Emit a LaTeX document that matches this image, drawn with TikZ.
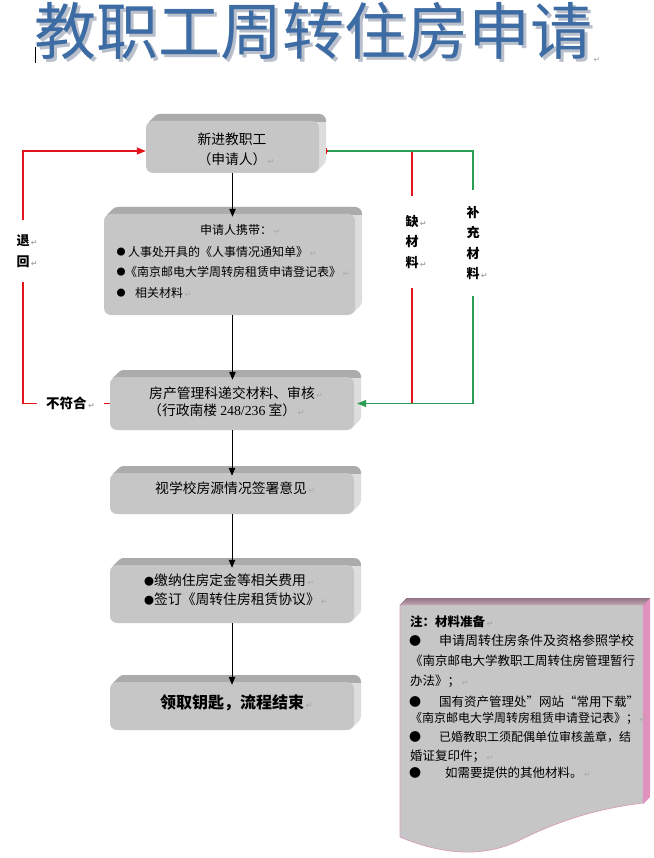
\documentclass[tikz,border=0pt]{standalone}
\usepackage{fontspec}
\setmainfont{Noto Sans CJK SC}
\newfontfamily\dvfont{DejaVu Sans}
\newfontfamily\serifl{Liberation Serif}
\usetikzlibrary{arrows.meta,calc}
\definecolor{face}{HTML}{C6C6C6}
\definecolor{side}{HTML}{DDDDDD}
\definecolor{topmid}{HTML}{ABABAB}
\definecolor{redl}{HTML}{E3141C}
\definecolor{greenl}{HTML}{2A9D55}
\definecolor{titleblue}{HTML}{3D6BA3}
\definecolor{titleshadow}{HTML}{B9C0CC}
\definecolor{mauvetop}{HTML}{937484}
\definecolor{mauvebot}{HTML}{BCA6B2}
\definecolor{pinkside}{HTML}{E290BD}
\definecolor{pinkedge}{HTML}{D6A3BF}
\definecolor{retgray}{HTML}{A8A8A8}
\newcommand\parmk{{\dvfont\fontsize{8}{8}\selectfont\color{retgray}\,↵}}
\newcommand\smdot{{\fontsize{10}{10}\selectfont ●}}
\newcommand\bevbox[5]{%
  \foreach \s in {1,...,7}{
    \fill[side, rounded corners=7pt] ({#2+\s},{#3+7-\s}) rectangle ({#4-7+\s},{#5-\s});
  }
  \begin{scope}
    \clip ({#2-2},{#3-2}) rectangle ({#4+2},{#3+7.5});
    \foreach \s in {1,...,7}{
      \fill[topmid, rounded corners=7pt] ({#2+\s},{#3+7-\s}) rectangle ({#4-7+\s},{#5-\s});
    }
  \end{scope}
  \node[facebox, minimum width={(#4-#2-7)*1pt}, minimum height={(#5-#3-7)*1pt}] (#1) at ({(#2+#4-7)/2},{(#3+#5+7)/2}) {};
}
\begin{document}
\begin{tikzpicture}[x=1pt,y=-1pt,
  facebox/.style={rectangle, rounded corners=7pt, fill=face, inner sep=0pt},
  txt/.style={inner sep=0pt, anchor=west, font=\fontsize{13.8}{16}\selectfont},
  smalltxt/.style={inner sep=0pt, anchor=west, font=\fontsize{12}{14}\selectfont},
  note/.style={inner sep=0pt, anchor=west, font=\fontsize{12.5}{15}\selectfont},
  dot/.style={inner sep=0pt, font=\fontsize{9}{10}\selectfont},
  ndot/.style={inner sep=0pt, font=\fontsize{12}{12}\selectfont},
  lbl/.style={inner sep=0pt, align=center, font=\bfseries\fontsize{13}{20.5}\selectfont, minimum width=14pt},
  arr/.style={line width=1pt, -{Triangle[length=8pt,width=6.5pt]}},
  redc/.style={draw=redl, line width=1.1pt},
  greenc/.style={draw=greenl, line width=1.1pt},
]
\useasboundingbox (0,0) rectangle (653,858);
\fill[white] (0,0) rectangle (653,858);

% title with shadow
\node[inner sep=0pt, text=titleblue, font=\fontsize{62}{62}\selectfont] (title) at (313,33)
  {\rlap{\hspace{3pt}\raisebox{-3pt}{\color{titleshadow}教职工周转住房申请}}教职工周转住房申请};
\node[inner sep=0pt, anchor=west] (tmark) at (592,60) {\parmk};
\draw[line width=0.8pt] (35,47) -- (35,63);

% boxes
\bevbox{b1}{146}{114}{326}{173}
\bevbox{b2}{104}{207}{362}{315}
\bevbox{b3}{110}{370}{361}{430}
\bevbox{b4}{110}{466}{361}{514}
\bevbox{b5}{110}{558}{361}{623}
\bevbox{b6}{110}{675}{361}{730}

% box texts
\node[txt, anchor=center] (t1a) at (232,139) {新进教职工};
\node[txt, anchor=center] (t1b) at (232,159) {（申请人）\rlap{\parmk}};

\node[smalltxt] (t2a) at (200,230) {申请人携带：\parmk};
\node[dot] (d2a) at (121,252) {●};
\node[smalltxt] (t2b) at (128,252) {人事处开具的《人事情况通知单》\parmk};
\node[dot] (d2b) at (121,272) {●};
\node[smalltxt] (t2c) at (125,272) {《南京邮电大学周转房租赁申请登记表》\parmk};
\node[dot] (d2c) at (121,293) {●};
\node[smalltxt] (t2d) at (135,293) {相关材料\parmk};

\node[txt] (t3a) at (149,393) {房产管理科递交材料、审核\parmk};
\node[txt] (t3b) at (148,410) {（行政南楼 {\serifl 248/236} 室）\parmk};

\node[txt] (t4) at (155,488) {视学校房源情况签署意见\parmk};

\node[txt] (t5a) at (144,580) {\smdot 缴纳住房定金等相关费用\parmk};
\node[txt] (t5b) at (144,599) {\smdot 签订《周转住房租赁协议》\parmk};

\node[txt, font=\bfseries\fontsize{16}{18}\selectfont] (t6) at (160,703) {领取钥匙，流程结束\parmk};

% vertical arrows
\draw[arr, shorten >=-3pt] (b1.south) -- (b1.south |- b2.north);
\draw[arr, shorten >=-3pt] (b1.south |- b2.south) -- (b1.south |- b3.north);
\draw[arr, shorten >=-3pt] (b3.south) -- (b4.north);
\draw[arr, shorten >=-3pt] (b4.south) -- (b5.north);
\draw[arr, shorten >=-3pt] (b5.south) -- (b6.north);

% side labels
\node[lbl, minimum height=61pt] (tuihui) at (23,251) {退\rlap{\parmk}\\回\rlap{\parmk}};
\node[inner sep=0pt, font=\bfseries\fontsize{13.5}{15}\selectfont, minimum width=67pt, minimum height=14pt] (buf) at (70.5,403.5) {不符合\parmk};
\node[lbl, minimum height=92pt] (que) at (412,242) {缺\rlap{\parmk}\\材\\料\rlap{\parmk}};
\node[lbl, minimum height=106pt] (bc) at (473,243) {补\\充\\材\\料\rlap{\parmk}};

% red return loop
\draw[redc] (b3.west) -- (buf.east);
\draw[redc] (buf.west) -| (tuihui.south);
\draw[redc, -{Triangle[length=9pt,width=7pt]}] (tuihui.north) |- ($(b1.west)+(0,4)$);

% missing materials / supplement
\draw[redc, {Bar[width=6pt]}-] ($(b1.east)+(7,4)$) -| (que.north);
\draw[redc] (que.south) -- (que.south |- b3.east);
\draw[greenc] ($(b1.east)+(9,4)$) -| (bc.north);
\draw[greenc, -{Triangle[length=9pt,width=7pt]}] (bc.south) |- ($(b3.east)+(3,0)$);

% notes box
\fill[top color=mauvetop, bottom color=mauvebot] (400,605) -- (407,598) -- (650,598) -- (643,605) -- cycle;
\fill[pinkside] (643,605) -- (650,598) -- (650,797) -- (643,804) -- cycle;
\filldraw[fill=face, draw=pinkedge, line width=0.8pt] (400,605) -- (643,605) -- (643,803)
  .. controls (600,808) and (560,820) .. (520,840)
  .. controls (490,855) and (450,858) .. (400,837) -- cycle;

\node[note, font=\bfseries\fontsize{12.5}{15}\selectfont] (n0) at (410,622) {注：材料准备\parmk};
\node[ndot] (nd1) at (415,641) {●};
\node[note, font=\fontsize{13}{15}\selectfont] (n1) at (439,641) {申请周转住房条件及资格参照学校};
\node[note] (n2) at (410,661) {《南京邮电大学教职工周转住房管理暂行};
\node[note] (n3) at (410,681) {办法》；\parmk};
\node[ndot] (nd2) at (415,702) {●};
\node[note] (n4) at (439,702) {国有资产管理处”网站“常用下载”};
\node[note, font=\fontsize{12}{15}\selectfont] (n5) at (410,718) {《南京邮电大学周转房租赁申请登记表》；\parmk};
\node[ndot] (nd3) at (415,737) {●};
\node[note, font=\fontsize{12}{15}\selectfont] (n6) at (439,737) {已婚教职工须配偶单位审核盖章，结};
\node[note] (n7) at (410,756) {婚证复印件；\parmk};
\node[ndot] (nd4) at (415,773) {●};
\node[note] (n8) at (445,773) {如需要提供的其他材料。\parmk};
\end{tikzpicture}
\end{document}
